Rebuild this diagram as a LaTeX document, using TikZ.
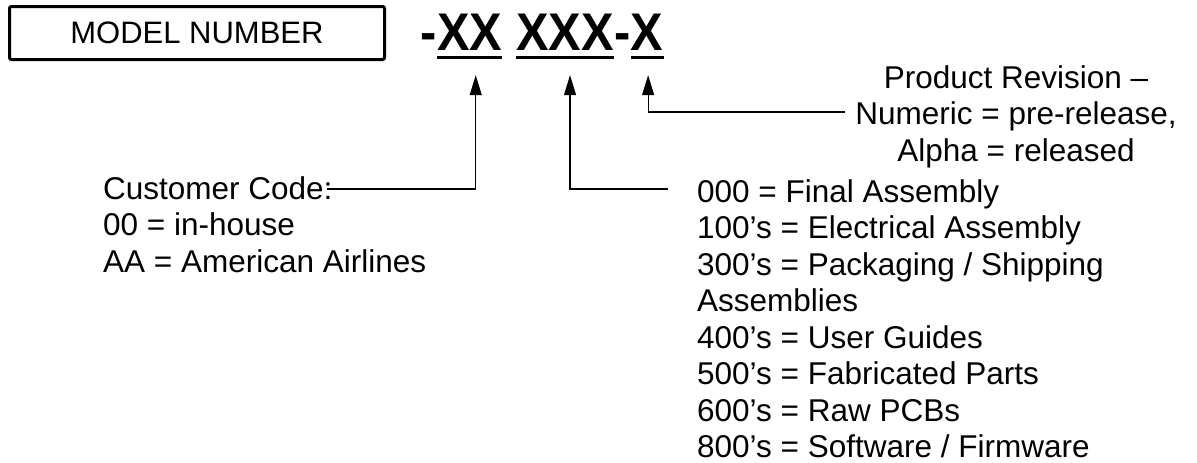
\documentclass[tikz,border=0pt]{standalone}
\usepackage{fontspec}
\setmainfont{Liberation Sans}
\newfontfamily\codefont[FakeStretch=0.92]{Liberation Sans}
\usetikzlibrary{arrows.meta,positioning}

\begin{document}
\begin{tikzpicture}[
        x=1pt, y=-1pt,
        every node/.style={inner sep=0pt, font=\fontsize{31.5}{36.5}\selectfont},
        modelbox/.style={draw, line width=3pt, rounded corners=2pt, minimum width=375pt, minimum height=53pt, font=\fontsize{31}{36}\selectfont},
        code/.style={font=\codefont\bfseries\fontsize{53}{60}\selectfont},
        uline/.style={line width=3pt},
        legend/.style={align=left, anchor=north west},
        pointer/.style={-{Triangle[length=20pt,width=12pt]}, line width=1.1pt, shorten >=25pt}
    ]
        \useasboundingbox (0,0) rectangle (1197,463);

        % Model number box
        \node[modelbox] (model) at (197,33) {MODEL NUMBER};

        % Number fields
        \node[code, anchor=base west] (cust) at (437,50) {XX};
        \node[code, anchor=base east] (dash1) at (cust.base west) {-};
        \node[code, anchor=base west] (type) at ([xshift=13.6pt]cust.base east) {XXX};
        \node[code, anchor=base west] (dash2) at (type.base east) {-};
        \node[code, anchor=base west] (rev) at (dash2.base east) {X};

        % Underlines
        \foreach \field in {cust, type, rev} {
            \draw[uline] ([yshift=-7pt]\field.base west) -- ([yshift=-7pt]\field.base east);
        }

        % Descriptions
        \node[legend] (custtext) at (103,176) {Customer Code:\\00 = in-house\\AA = American Airlines};
        \node[legend] (typetext) at (697,179) {000 = Final Assembly\\100’s = Electrical Assembly\\300’s = Packaging / Shipping\\Assemblies\\400’s = User Guides\\500’s = Fabricated Parts\\600’s = Raw PCBs\\800’s = Software / Firmware};
        \node[align=center, anchor=north] (revtext) at (1016,65) {Product Revision –\\Numeric = pre-release,\\Alpha = released};

        % Leader start points
        \coordinate (custline) at (327,189);
        \coordinate (typeline) at (668,189);
        \coordinate (revline) at (845,112);

        % Arrows
        \draw[pointer] (custline) -| ([xshift=6pt]cust.south);
        \draw[pointer] (typeline) -| ([xshift=5pt]type.south);
        \draw[pointer] (revline) -| ([xshift=1pt]rev.south);
    \end{tikzpicture}
\end{document}
